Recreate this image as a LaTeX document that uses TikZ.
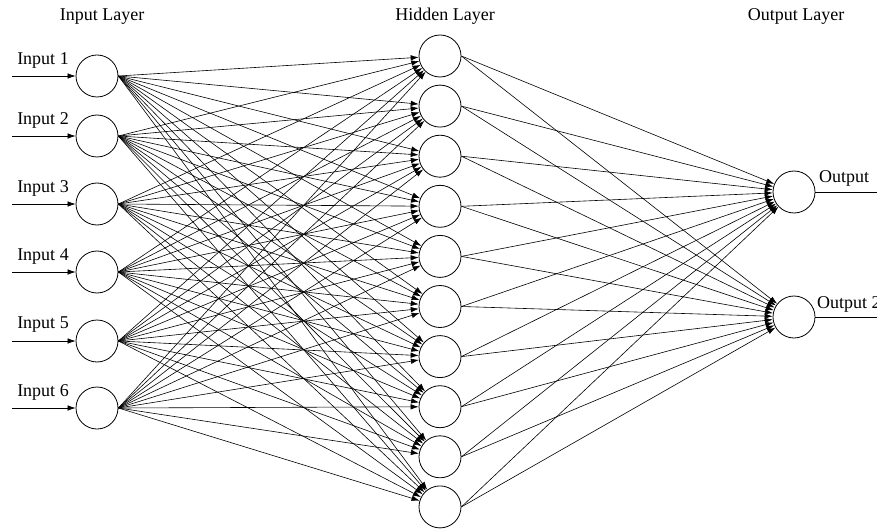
\documentclass[tikz,border=0pt]{standalone}
\usepackage{fontspec}
\setmainfont{Liberation Serif}
\usetikzlibrary{arrows.meta, positioning}
\tikzstyle{neuron} = [circle, draw, line width=0.8pt, fill=white,
  minimum size=42pt, inner sep=0pt]
\tikzstyle{layertitle} = [font=\fontsize{18}{21}\selectfont, inner sep=0pt]
\tikzstyle{lbl} = [font=\fontsize{18}{21}\selectfont, inner sep=0pt]
\tikzstyle{arrow} = [-{Latex[length=8pt,width=5.5pt]}, line width=0.6pt]
\tikzstyle{wire} = [line width=0.7pt]

\begin{document}
\begin{tikzpicture}[x=1pt,y=-1pt]
  \useasboundingbox (0,0) rectangle (877,529);

  % Titles
  \node[layertitle] (tin)  at (102,17) {Input Layer};
  \node[layertitle] (thid) at (445,16) {Hidden Layer};
  \node[layertitle] (tout) at (796,16) {Output Layer};

  % Input layer
  \foreach \k/\y in {1/76, 2/136, 3/204, 4/272, 5/341, 6/408} {
    \node[neuron] (in\k) at (97,\y) {};
    \coordinate (src\k) at (12,\y);
    \node[lbl] (inlbl\k) at (43,\y-16) {Input \k};
  }

  % Hidden layer
  \foreach \j in {1,...,10} {
    \node[neuron] (hid\j) at (440,{56+(\j-1)*50.1}) {};
  }

  % Output layer
  \node[neuron] (out1) at (794,192) {};
  \node[neuron] (out2) at (794,317) {};
  \coordinate (dst1) at (877,192);
  \coordinate (dst2) at (877,317);
  \node[lbl, anchor=west] (outlbl1) at (819,178) {Output};
  \node[lbl, anchor=west] (outlbl2) at (817,304) {Output 2};

  % Connections
  \foreach \k in {1,...,6} {
    \draw[arrow] (src\k) -- (in\k.west);
    \foreach \j in {1,...,10}
      \draw[arrow] (in\k.east) -- (hid\j);
  }
  \foreach \j in {1,...,10} {
    \draw[arrow] (hid\j.east) -- (out1);
    \draw[arrow] (hid\j.east) -- (out2);
  }
  \draw[wire] (out1.east) -- (dst1);
  \draw[wire] (out2.east) -- (dst2);

\end{tikzpicture}
\end{document}
